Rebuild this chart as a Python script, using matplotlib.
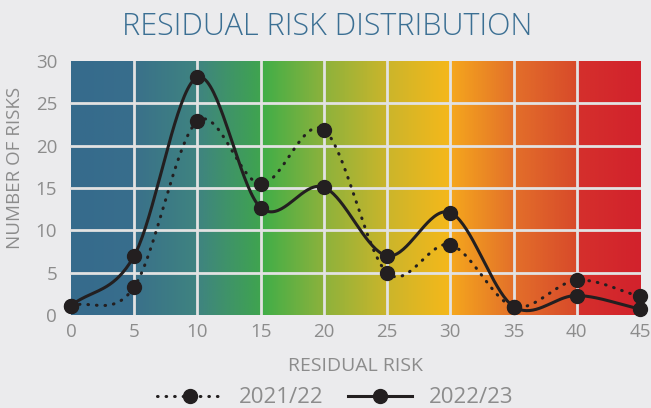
import numpy as np
import matplotlib
matplotlib.use('Agg')
import matplotlib.pyplot as plt
from matplotlib.colors import LinearSegmentedColormap
from matplotlib.lines import Line2D

# datos
riesgo = [0, 5, 10, 15, 20, 25, 30, 35, 40, 45]
serie_2122 = [1.1, 3.3, 22.9, 15.5, 21.9, 5.0, 8.3, 1.0, 4.1, 2.2]
serie_2223 = [1.1, 7.0, 28.1, 12.7, 15.1, 7.0, 12.1, 1.0, 2.3, 0.7]
etiquetas = ['2021/22', '2022/23']
titulo = 'RESIDUAL RISK DISTRIBUTION'

fondo = '#ebebed'
gris = '#8c8c8c'
tinta = '#231f20'

# paradas del degradado de fondo (posicion en el eje x, color)
paradas = [(0, '#366b8c'), (5, '#386e8c'), (5.05, '#3a718a'), (10, '#3f8480'),
           (14.95, '#3fa44f'), (15.05, '#40ae48'), (20, '#8db23c'),
           (25, '#cbb52b'), (30, '#f6b81a'), (30.05, '#f5a71d'),
           (35, '#e3702a'), (40, '#d84a2a'), (40.05, '#d5302c'), (45, '#d2222c')]


def catmull_rom(x, y, n=40):
    # curva suavizada que pasa por todos los puntos
    p = np.column_stack([x, y]).astype(float)
    p = np.vstack([p[0] - (p[1] - p[0]), p, p[-1] + (p[-1] - p[-2])])
    xs, ys = [], []
    for i in range(1, len(p) - 2):
        p0, p1, p2, p3 = p[i - 1], p[i], p[i + 1], p[i + 2]
        t = np.linspace(0, 1, n)[:, None]
        c = 0.5 * ((2 * p1) + (-p0 + p2) * t + (2 * p0 - 5 * p1 + 4 * p2 - p3) * t ** 2
                   + (-p0 + 3 * p1 - 3 * p2 + p3) * t ** 3)
        xs.append(c[:, 0])
        ys.append(c[:, 1])
    return np.concatenate(xs), np.concatenate(ys)


fig = plt.figure(figsize=(6.51, 4.08), dpi=100, facecolor=fondo)
ax = fig.add_axes([0.107, 0.228, 0.878, 0.622])
ax.set_facecolor(fondo)

xmin, xmax = riesgo[0], riesgo[-1]
cmap = LinearSegmentedColormap.from_list(
    'riesgo', [((v - xmin) / (xmax - xmin), c) for v, c in paradas])
grad = np.linspace(0, 1, 900)[None, :]
ax.imshow(grad, cmap=cmap, aspect='auto', extent=[xmin, xmax, 0, 30],
          origin='lower', zorder=0, interpolation='bilinear')

ax.set_xlim(xmin - 0.1, xmax + 0.1)
ax.set_ylim(0, 30)
ax.set_xticks(riesgo)
ax.set_yticks(range(0, 31, 5))
for v in riesgo[1:-1]:
    ax.axvline(v, color='#e2e2e2', lw=2, zorder=1)
for v in range(5, 30, 5):
    ax.axhline(v, color='#e2e2e2', lw=2, zorder=1)
for s in ax.spines.values():
    s.set_visible(False)
ax.tick_params(length=0, colors=gris, labelsize=13.5)
ax.tick_params(axis='y', pad=9)
ax.tick_params(axis='x', pad=6)
for lab in ax.get_xticklabels() + ax.get_yticklabels():
    lab.set_fontfamily('Open Sans')

punteada = dict(color=tinta, lw=2.2, linestyle=(0, (0.2, 2.6)),
                dash_capstyle='round')
solida = dict(color=tinta, lw=2.2)

cx, cy = catmull_rom(riesgo, serie_2122)
ax.plot(cx, cy, zorder=3, **punteada)
ax.plot(riesgo, serie_2122, 'o', color=tinta, ms=10, zorder=4, clip_on=False)
cx, cy = catmull_rom(riesgo, serie_2223)
ax.plot(cx, cy, zorder=3, **solida)
ax.plot(riesgo, serie_2223, 'o', color=tinta, ms=10, zorder=4, clip_on=False)

fig.text(0.502, 0.934, titulo, ha='center', va='center', color='#3b6f93',
         fontsize=22, family='Open Sans', fontweight='light')
ax.set_ylabel('NUMBER OF RISKS', color=gris, fontsize=13.5, family='Open Sans')
ax.yaxis.set_label_coords(-0.080, 0.58)
ax.set_xlabel('RESIDUAL RISK', color=gris, fontsize=14, family='Open Sans',
              labelpad=11)

h1 = Line2D([], [], marker='o', ms=10, **punteada)
h2 = Line2D([], [], marker='o', ms=10, **solida)
leg = fig.legend([h1, h2], etiquetas, loc='center', bbox_to_anchor=(0.515, 0.025),
                 ncol=2, frameon=False, handlelength=2.9, handletextpad=0.75,
                 columnspacing=1.1, prop={'family': 'Open Sans', 'size': 16})
for t in leg.get_texts():
    t.set_color(gris)

fig.savefig('out.png', dpi=100, facecolor=fondo)
